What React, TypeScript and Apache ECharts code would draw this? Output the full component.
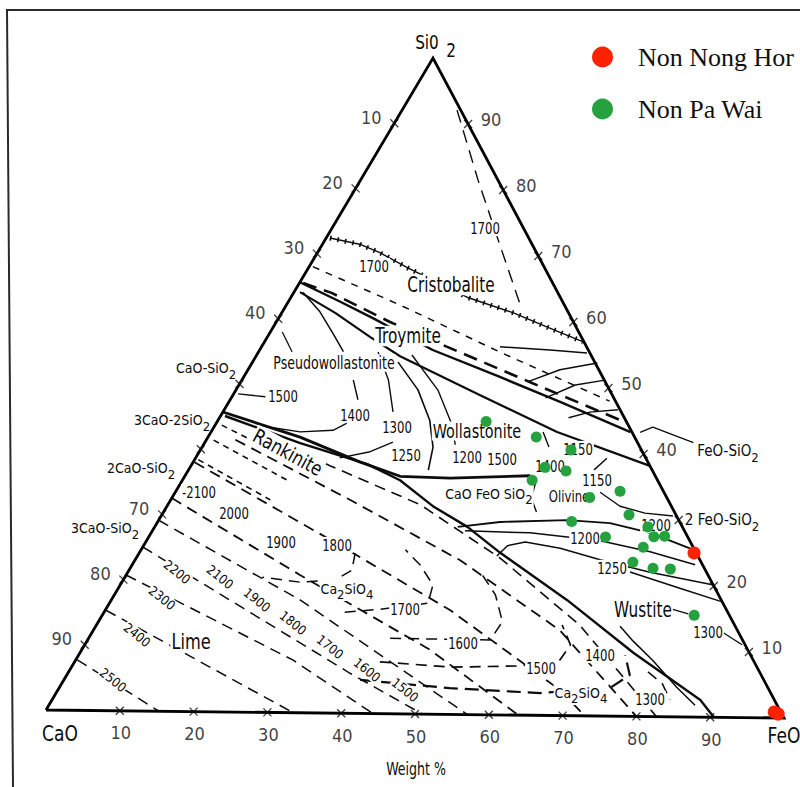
import React, { useEffect, useRef } from "react";
import * as echarts from "echarts";

// ---------- DATA (weight %) : every point is [FeO, SiO2]; CaO = 100 - FeO - SiO2 ----------
const nonNongHor: number[][] = [[74.7, 25.0], [98.2, 0.9], [98.9, 0.6]];
const nonPaWai: number[][] = [
  [36.2, 44.7], [44.2, 42.4], [49.9, 40.5], [47.8, 37.8], [50.9, 37.3], [47.1, 35.8],
  [59.8, 34.3], [56.2, 33.3], [62.9, 30.7], [55.7, 29.6], [66.4, 28.9], [68.0, 27.4],
  [69.4, 27.5], [61.5, 27.3], [67.4, 25.8], [67.2, 23.5], [70.4, 22.6], [72.8, 22.5], [79.7, 15.5],
];

const tickValues = [10, 20, 30, 40, 50, 60, 70, 80, 90];
const caoTickLabels = [10, 20, 30, 40, 70, 80, 90];
const feoTickLabels = [10, 20, 30, 40, 50, 60, 70, 80, 90];
const sio2TickLabels = [10, 20, 40, 50, 60, 70, 80, 90];

// phase boundaries (solid)
const rankTop = [[0, 45.7], [12.4, 42.0], [22.5, 38.3], [29.0, 36.2], [35.9, 36.0], [46.5, 36.5]];
const rankBottom = [[0.6, 45.1], [12.9, 41.1], [23.6, 38.0], [29.3, 35.6], [35.8, 31.7], [42.1, 28.6], [48.6, 24.7], [61.4, 17.6], [74.5, 9.7], [87.3, 2.6], [90.5, 0]];
const olivineTop = [[40.8, 28.6], [46.1, 29.4], [55.0, 29.8], [61.0, 29.4], [67.2, 28.0], [74.3, 25.5]];
const iso1200 = [[42.1, 28.0], [51.0, 27.8], [61.1, 26.7], [68.7, 25.1], [75.8, 23.2]];
const iso1250 = [[48.4, 24.2], [49.0, 25.8], [51.1, 26.4], [56.3, 25.5], [62.6, 23.8], [70.3, 22.0], [79.7, 20.2]];
const iso1250b = [[67.6, 22.0], [75.6, 19.6], [82.4, 17.6]];
const wustiteLine = [[70.6, 13.7], [73.5, 11.5], [77.8, 8.5], [83.1, 4.5], [87.0, 1.8]];
const troyA = [[0, 65.6], [7.0, 62.7], [12.6, 60.3], [23.3, 55.5], [34.5, 51.5], [44.6, 47.8], [56.5, 43.3]];
const troyB = [[0.8, 64.1], [7.2, 61.0], [13.8, 57.4], [19.4, 54.5], [33.3, 48.7], [46.6, 43.2], [61.8, 38.2]];
const cristobalite = [[0.5, 72.4], [5.0, 71.5], [8.5, 70.2], [13.3, 68.0], [23.7, 63.6], [31.2, 61.3], [36.8, 59.2], [42.9, 57.0]];
const edgeIso1 = [[44.3, 55.3], [39.1, 55.7], [32.1, 56.1]];
const edgeIso2 = [[46.5, 53.8], [42.0, 52.7], [38.6, 50.8]];
const edgeIso3 = [[48.9, 51.2], [45.3, 50.4], [42.3, 48.4]];
const edgeIso4 = [[53.0, 46.7], [49.4, 46.3], [47.0, 45.4]];
const pseudoA = [[1.2, 64.1], [5.1, 61.1], [8.5, 57.9], [11.4, 55.1]];
const pseudoLeader = [[1.6, 58.0], [4.5, 55.0]];
const iso1500Leader = [[0.6, 48.5], [4.5, 48.1]];
const iso1400a = [[15.0, 50.8], [17.2, 47.8]];
const iso1400b = [[17.6, 44.2], [16.3, 43.1], [12.0, 42.8], [7.3, 43.5]];
const iso1300a = [[16.1, 55.1], [19.7, 50.9], [22.9, 46.0]];
const iso1300b = [[25.3, 41.4], [23.0, 39.9], [19.4, 38.9]];
const wollBoundary = [[19.6, 53.6], [24.5, 49.4], [28.5, 44.8], [31.1, 40.7], [32.3, 37.2]];
const wollIso = [[20.9, 54.7], [27.2, 49.4], [31.9, 44.1], [33.9, 41.1]];
const olivA = [[44.7, 43.2], [46.7, 40.9]];
const olivB = [[47.8, 35.3], [48.4, 33.1], [50.2, 31.0]];
const olivC = [[55.4, 39.3], [54.6, 37.5]];
const olivD = [[57.2, 34.1], [61.0, 32.0], [64.9, 31.0], [68.9, 30.6]];
const feoSio2Leader = [[57.8, 43.3], [59.1, 44.1], [65.8, 41.8]];
const iso1300Leader = [[84.8, 13.0], [88.5, 11.1]];
const wustiteLeader = [[76.2, 16.4], [78.8, 15.7]];

// dashed lines
const twoLiquid = [[0.5, 65.5], [5.2, 64.0], [15.3, 59.7], [25.0, 56.0], [39.4, 50.6], [55.3, 44.7]];
const tridymite = [[0.5, 68.0], [15.3, 62.3], [32.5, 55.3], [51.2, 48.0]];
const silica1700 = [[7.4, 92.1], [15.8, 81.5], [23.3, 72.4], [31.5, 62.5]];
const lime2500 = [[0.2, 7.7], [15.3, 0]];
const lime2400 = [[0.1, 15.3], [33.5, 0]];
const lime2300 = [[0, 20.7], [29.3, 8.0], [44.3, 0]];
const lime2200 = [[0, 25.0], [38.0, 6.1], [51.0, 0]];
const lime2100 = [[0, 29.1], [25.4, 17.2], [57.1, 0]];
const dashE1 = [[0, 32.5], [23.4, 21.0], [46.9, 9.8], [64, 0]];
const dashE2 = [[0.2, 38.0], [24.7, 26.4], [46.4, 15.9], [67.6, 3.9], [73, 0]];
const dashE3 = [[3.9, 41.5], [24.2, 32.5], [43.8, 23.5], [62.8, 13.0], [80, 0]];
const dashE4 = [[6.7, 42.6], [18.7, 37.7], [34.0, 31.9], [49.0, 23.9], [65.1, 13.8], [82.7, 0]];
const hatch1 = [[0.9, 43.7], [14.6, 37.8]];
const hatch2 = [[1.0, 41.4], [14.6, 35.2]];
const hatch3 = [[0.5, 38.4], [13.4, 32.4]];
const c2s1800 = [[29.1, 24.4], [30.0, 21.8], [28.5, 20.3], [24.0, 19.9], [18.5, 20.6]];
const c2s1700 = [[32.4, 15.4], [36.9, 15.9], [42.9, 16.9], [42.1, 19.7], [38.8, 22.7], [35.6, 25.0]];
const c2s1600 = [[40.6, 11.5], [54.2, 11.4], [54.4, 14.2], [51.3, 18.3], [47.4, 21.8]];
const c2s1500 = [[41.1, 7.9], [51.0, 7.2], [60.3, 7.5], [65.2, 8.5], [65.4, 10.8], [62.7, 13.8]];
const c2sField = [[39.9, 5.1], [52.6, 4.0], [65.2, 3.4], [74.2, 4.3], [75.8, 6.3], [73.6, 9.3]];
const wus1300 = [[78.0, 6.8], [80.9, 5.0], [83.2, 2.6]];

// ---------- LAYOUT ----------
const V = { cao: [46, 710], feo: [784, 718], sio2: [433, 58] };
const toXY = (p: number[]) => {
  const f = p[0], s = p[1], c = 100 - f - s;
  return [
    (c * V.cao[0] + f * V.feo[0] + s * V.sio2[0]) / 100,
    (c * V.cao[1] + f * V.feo[1] + s * V.sio2[1]) / 100,
  ];
};

const FONT = '"Liberation Sans Narrow", "DejaVu Sans Condensed", "Arial Narrow", sans-serif';
const SERIF = '"Liberation Serif", "Times New Roman", serif';
const INK = "#0c0c0c";

const SOLID = "solid";
const DASH: number[] = [11, 7];
const SHORTDASH: number[] = [7, 7];

const LINES: { d: number[][]; w: number; t: any }[] = [
  { d: rankTop, w: 2.8, t: SOLID },
  { d: rankBottom, w: 2.4, t: SOLID },
  { d: olivineTop, w: 1.8, t: SOLID },
  { d: iso1200, w: 1.5, t: SOLID },
  { d: iso1250, w: 1.5, t: SOLID },
  { d: iso1250b, w: 1.5, t: SOLID },
  { d: wustiteLine, w: 1.5, t: SOLID },
  { d: troyA, w: 2.4, t: SOLID },
  { d: troyB, w: 2.2, t: SOLID },
  { d: cristobalite, w: 1.4, t: SOLID },
  { d: edgeIso1, w: 1.4, t: SOLID },
  { d: edgeIso2, w: 1.4, t: SOLID },
  { d: edgeIso3, w: 1.4, t: SOLID },
  { d: edgeIso4, w: 1.4, t: SOLID },
  { d: pseudoA, w: 1.5, t: SOLID },
  { d: pseudoLeader, w: 1.3, t: SOLID },
  { d: iso1500Leader, w: 1.3, t: SOLID },
  { d: iso1400a, w: 1.4, t: SOLID },
  { d: iso1400b, w: 1.4, t: SOLID },
  { d: iso1300a, w: 1.4, t: SOLID },
  { d: iso1300b, w: 1.4, t: SOLID },
  { d: wollBoundary, w: 1.6, t: SOLID },
  { d: wollIso, w: 1.4, t: SOLID },
  { d: olivA, w: 1.4, t: SOLID },
  { d: olivB, w: 1.4, t: SOLID },
  { d: olivC, w: 1.4, t: SOLID },
  { d: olivD, w: 1.4, t: SOLID },
  { d: feoSio2Leader, w: 1.3, t: SOLID },
  { d: iso1300Leader, w: 1.3, t: SOLID },
  { d: wustiteLeader, w: 1.3, t: SOLID },
  { d: twoLiquid, w: 2.6, t: [14, 8] },
  { d: tridymite, w: 1.5, t: SHORTDASH },
  { d: silica1700, w: 1.4, t: [13, 8] },
  { d: lime2500, w: 1.5, t: DASH },
  { d: lime2400, w: 1.5, t: DASH },
  { d: lime2300, w: 1.5, t: DASH },
  { d: lime2200, w: 1.5, t: DASH },
  { d: lime2100, w: 1.5, t: DASH },
  { d: dashE1, w: 1.8, t: DASH },
  { d: dashE2, w: 1.8, t: DASH },
  { d: dashE3, w: 1.8, t: DASH },
  { d: dashE4, w: 1.6, t: DASH },
  { d: hatch1, w: 1.6, t: [6, 5] },
  { d: hatch2, w: 1.6, t: [6, 5] },
  { d: hatch3, w: 1.6, t: [6, 5] },
  { d: c2s1800, w: 1.5, t: DASH },
  { d: c2s1700, w: 1.5, t: DASH },
  { d: c2s1600, w: 1.5, t: DASH },
  { d: c2s1500, w: 1.7, t: DASH },
  { d: c2sField, w: 2.2, t: [14, 7] },
  { d: wus1300, w: 1.5, t: DASH },
];

const RICH = {
  s: { fontSize: 13, fontFamily: FONT, lineHeight: 10, verticalAlign: "bottom" as const, fill: INK },
};

type TxtOpt = { rot?: number; sy?: number; bg?: boolean; align?: string; lh?: number };
const txt = (text: string, x: number, y: number, size: number, o: TxtOpt = {}) => ({
  type: "text",
  x,
  y,
  z: 5,
  silent: true,
  rotation: o.rot || 0,
  scaleY: o.sy || 1,
  style: {
    text,
    fontSize: size,
    fontFamily: FONT,
    fill: INK,
    align: o.align || "center",
    verticalAlign: "middle",
    lineHeight: o.lh,
    backgroundColor: o.bg === false ? "transparent" : "#ffffff",
    padding: [0, 1],
    rich: RICH,
  },
});

const R = -0.68;
const ISO = { sy: 1.25 };
const TEXTS = [
  // field names
  txt("Cristobalite", 451, 285, 17, { sy: 1.2 }),
  txt("Troymite", 408, 336, 17, { sy: 1.2 }),
  txt("Pseudowollastonite", 334, 363, 14, { sy: 1.25 }),
  txt("Wollastonite", 477, 431, 16, { sy: 1.2 }),
  txt("Rankinite", 288, 452, 18, { rot: -0.5, sy: 1.1 }),
  txt("CaO FeO SiO{s|2}", 489, 494, 14, { lh: 24 }),
  txt("Olivine", 569, 497, 13, { sy: 1.2 }),
  txt("Wustite", 643, 610, 17, { sy: 1.2 }),
  txt("Lime", 191, 642, 18, { sy: 1.15 }),
  txt("Ca{s|2}SiO{s|4}", 347, 589, 14, { lh: 24 }),
  txt("Ca{s|2}SiO{s|4}", 581, 693, 14, { lh: 24 }),
  // isotherms
  txt("1700", 485, 228, 13, ISO),
  txt("1700", 374, 266, 13, ISO),
  txt("1500", 283, 396, 13, ISO),
  txt("1400", 355, 415, 13, ISO),
  txt("1300", 397, 427, 13, ISO),
  txt("1250", 406, 455, 13, ISO),
  txt("1200", 467, 457, 13, ISO),
  txt("1500", 502, 459, 13, ISO),
  txt("1150", 578, 449, 13, ISO),
  txt("1400", 550, 466, 13, ISO),
  txt("1150", 597, 480, 13, ISO),
  txt("1200", 585, 538, 13, ISO),
  txt("1200", 656, 525, 13, ISO),
  txt("1250", 612, 568, 13, ISO),
  txt("1300", 708, 632, 13, ISO),
  txt("-2100", 199, 492, 13, ISO),
  txt("2000", 234, 513, 13, ISO),
  txt("1900", 281, 542, 13, ISO),
  txt("1800", 337, 545, 13, ISO),
  txt("1700", 405, 609, 13, ISO),
  txt("1600", 463, 643, 13, ISO),
  txt("1500", 541, 668, 13, ISO),
  txt("1400", 600, 655, 13, ISO),
  txt("1300", 650, 699, 13, ISO),
  txt("2200", 177, 572, 13, { rot: R }),
  txt("2100", 220, 577, 13, { rot: R }),
  txt("1900", 257, 600, 13, { rot: R }),
  txt("1800", 293, 623, 13, { rot: R }),
  txt("1700", 330, 647, 13, { rot: R }),
  txt("1600", 367, 670, 13, { rot: R }),
  txt("1500", 405, 690, 13, { rot: R }),
  txt("2300", 162, 598, 13, { rot: R }),
  txt("2400", 137, 635, 13, { rot: R }),
  txt("2500", 113, 680, 13, { rot: R }),
  // compounds
  txt("CaO-SiO{s|2}", 206, 368, 14, { lh: 26, bg: false }),
  txt("3CaO-2SiO{s|2}", 172, 420, 14, { lh: 26, bg: false }),
  txt("2CaO-SiO{s|2}", 141, 468, 14, { lh: 26, bg: false }),
  txt("3CaO-SiO{s|2}", 105, 528, 14, { lh: 26, bg: false }),
  txt("FeO-SiO{s|2}", 728, 451, 15, { lh: 26, bg: false }),
  txt("2 FeO-SiO{s|2}", 722, 520, 15, { lh: 26, bg: false }),
  // axes
  txt("CaO", 60, 734, 19, { bg: false, sy: 1.1 }),
  txt("FeO", 784, 736, 19, { bg: false, sy: 1.1 }),
  txt("Weight %", 416, 770, 14, { bg: false, sy: 1.2 }),
  txt("Si0", 427, 42, 17, { bg: false, sy: 1.15 }),
  txt("2", 451, 50, 17, { bg: false, sy: 1.15 }),
];

const X_SYMBOL = "path://M0,0L10,10M10,0L0,10";

export default function App() {
  const ref = useRef<HTMLDivElement>(null);
  useEffect(() => {
    if (!ref.current) return;
    const chart = echarts.init(ref.current, undefined, { renderer: "svg" });

    const edge = [[0, 0], [100, 0], [0, 100], [0, 0]].map(toXY);

    const ticks = [
      ...tickValues.map((t) => toXY([t, 0])),
      ...tickValues.map((t) => toXY([100 - t, t])),
      ...tickValues.map((t) => toXY([0, 100 - t])),
    ];

    const tickLabelSeries = (pts: { name: string; value: number[] }[], offset: number[]) => ({
      type: "scatter",
      data: pts,
      symbolSize: 1,
      itemStyle: { color: "transparent" },
      silent: true,
      z: 6,
      label: {
        show: true,
        position: "inside",
        formatter: "{b}",
        offset,
        fontSize: 18,
        fontFamily: FONT,
        color: INK,
      },
    });

    const lineSeries = LINES.map((l) => ({
      type: "line",
      data: l.d.map(toXY),
      showSymbol: false,
      symbol: "none",
      silent: true,
      clip: false,
      z: 2,
      lineStyle: { color: INK, width: l.w, type: l.t, cap: "butt" },
    }));

    chart.setOption({
      animation: false,
      grid: { left: 0, right: 0, top: 0, bottom: 0 },
      xAxis: { type: "value", min: 0, max: 800, show: false },
      yAxis: { type: "value", min: 0, max: 787, inverse: true, show: false },
      legend: {
        orient: "vertical",
        left: 587,
        top: 39,
        itemWidth: 21,
        itemHeight: 21,
        itemGap: 26,
        icon: "circle",
        data: ["Non Nong Hor", "Non Pa Wai"],
        textStyle: { fontFamily: SERIF, fontSize: 26, color: "#111", padding: [0, 0, 0, 20] },
      },
      graphic: [
        {
          type: "polyline",
          z: 1,
          silent: true,
          shape: { points: [[13, 787], [7, 10], [800, 10]] },
          style: { stroke: "#2a2a2a", lineWidth: 2, fill: "none" },
        },
        ...TEXTS,
      ],
      series: [
        ...lineSeries,
        {
          type: "line",
          data: cristobalite.map(toXY),
          showSymbol: false,
          symbol: "none",
          silent: true,
          z: 2,
          lineStyle: { color: INK, width: 5, type: [1.6, 6], cap: "butt" },
        },
        {
          type: "line",
          data: edge,
          showSymbol: false,
          symbol: "none",
          silent: true,
          z: 3,
          lineStyle: { color: "#000", width: 2.8, join: "miter" },
        },
        {
          type: "scatter",
          data: ticks,
          symbol: X_SYMBOL,
          symbolSize: 8,
          silent: true,
          z: 4,
          itemStyle: { color: "transparent", borderColor: INK, borderWidth: 1.3 },
        },
        tickLabelSeries(feoTickLabels.map((t) => ({ name: String(t), value: toXY([t, 0]) })), [1, 22]),
        tickLabelSeries(sio2TickLabels.map((t) => ({ name: String(t), value: toXY([100 - t, t]) })), [23, -5]),
        tickLabelSeries(caoTickLabels.map((t) => ({ name: String(t), value: toXY([0, 100 - t]) })), [-23, -6]),
        {
          name: "Non Nong Hor",
          type: "scatter",
          data: nonNongHor.map(toXY),
          symbolSize: 13,
          z: 10,
          itemStyle: { color: "#ff2200", opacity: 1 },
        },
        {
          name: "Non Pa Wai",
          type: "scatter",
          data: nonPaWai.map(toXY),
          symbolSize: 11,
          z: 10,
          itemStyle: { color: "#25a23f", opacity: 1 },
        },
      ],
    });
    return () => chart.dispose();
  }, []);
  return (
    <div
      ref={ref}
      style={{ position: "fixed", left: 0, top: 0, width: 800, height: 787, background: "#fff" }}
    />
  );
}
